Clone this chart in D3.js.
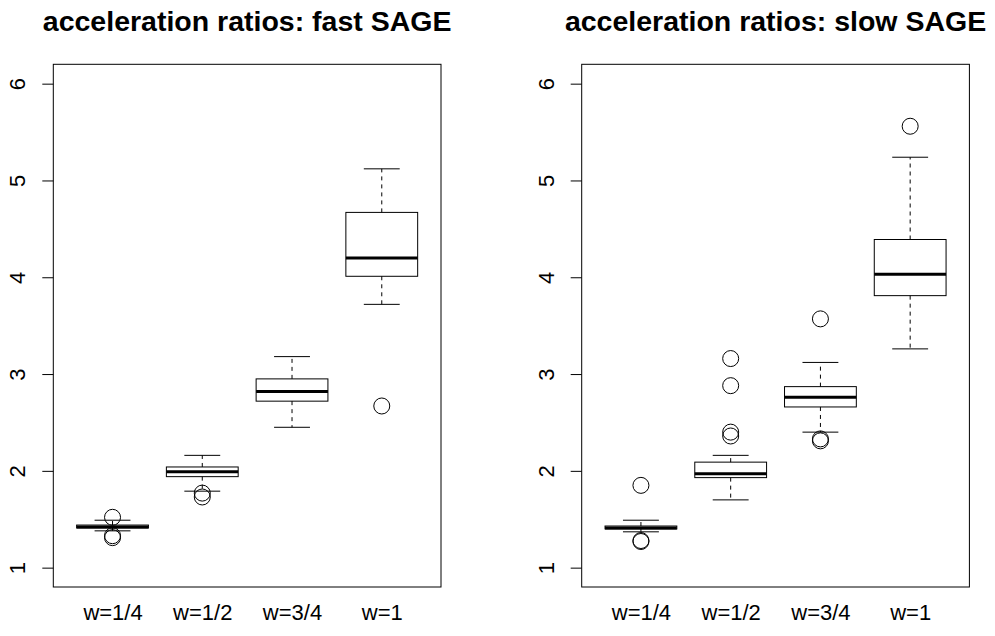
<!DOCTYPE html>
<html>
<head>
<meta charset="utf-8">
<script src="https://cdn.jsdelivr.net/npm/d3@7"></script>
<style>
  body { margin: 0; background: #fff; }
  svg { display: block; font-family: "Liberation Sans", Arial, sans-serif; }
</style>
</head>
<body>
<div id="chart"></div>
<script>
// ---- data ----
const groups = ['w=1/4', 'w=1/2', 'w=3/4', 'w=1'];
const yTicks = [1, 2, 3, 4, 5, 6];

// fast SAGE: whisker ends, quartiles, medians, outliers
const fastLow  = [1.38, 1.79, 2.45, 3.72];
const fastQ1   = [1.41, 1.94, 2.72, 4.01];
const fastMed  = [1.42, 1.99, 2.82, 4.20];
const fastQ3   = [1.44, 2.04, 2.95, 4.67];
const fastHigh = [1.49, 2.16, 3.18, 5.12];
const fastOut  = [[1.52, 1.33, 1.31], [1.77, 1.73], [], [2.67]];

// slow SAGE
const slowLow  = [1.37, 1.70, 2.40, 3.26];
const slowQ1   = [1.40, 1.93, 2.66, 3.81];
const slowMed  = [1.41, 1.97, 2.76, 4.03];
const slowQ3   = [1.43, 2.09, 2.87, 4.39];
const slowHigh = [1.49, 2.16, 3.12, 5.24];
const slowOut  = [[1.85, 1.28, 1.27], [3.16, 2.88, 2.40, 2.36], [3.57, 2.33, 2.31], [5.56]];

const titles = ['acceleration ratios: fast SAGE', 'acceleration ratios: slow SAGE'];

// ---- layout ----
const W = 995, H = 636;
const plotTop = 64.3, plotBottom = 587;
const panelLeft = [53.3, 581.7];
const panelWidth = 387.7;

const svg = d3.select('#chart').append('svg')
  .attr('width', W).attr('height', H);

function buildStats(low, q1, med, q3, high, out) {
  return groups.map((g, i) => ({
    name: g, idx: i + 1,
    low: low[i], q1: q1[i], med: med[i], q3: q3[i], high: high[i], out: out[i]
  }));
}

const panels = [
  buildStats(fastLow, fastQ1, fastMed, fastQ3, fastHigh, fastOut),
  buildStats(slowLow, slowQ1, slowMed, slowQ3, slowHigh, slowOut)
];

// R style: ylim c(1,6) extended 4%, xlim c(0.5,4.5) extended 4%
const y = d3.scaleLinear().domain([0.8, 6.2]).range([plotBottom, plotTop]);

panels.forEach((stats, p) => {
  const x0 = panelLeft[p];
  const x = d3.scaleLinear().domain([0.34, 4.66]).range([x0, x0 + panelWidth]);
  const unit = x(1) - x(0);
  const half = 0.4 * unit;      // boxwex 0.8
  const stap = 0.2 * unit;      // staplewex 0.5

  const g = svg.append('g');

  // boxes
  const bx = g.selectAll('.bx').data(stats).enter().append('g').attr('class', 'bx');

  // whiskers (dashed)
  bx.append('line')
    .attr('x1', d => x(d.idx)).attr('x2', d => x(d.idx))
    .attr('y1', d => y(d.q3)).attr('y2', d => y(d.high))
    .attr('stroke', '#000').attr('stroke-dasharray', '4,4');
  bx.append('line')
    .attr('x1', d => x(d.idx)).attr('x2', d => x(d.idx))
    .attr('y1', d => y(d.q1)).attr('y2', d => y(d.low))
    .attr('stroke', '#000').attr('stroke-dasharray', '4,4');

  // staples
  ['high', 'low'].forEach(k => {
    bx.append('line')
      .attr('x1', d => x(d.idx) - stap).attr('x2', d => x(d.idx) + stap)
      .attr('y1', d => y(d[k])).attr('y2', d => y(d[k]))
      .attr('stroke', '#000');
  });

  bx.append('rect')
    .attr('x', d => x(d.idx) - half).attr('width', 2 * half)
    .attr('y', d => y(d.q3)).attr('height', d => y(d.q1) - y(d.q3))
    .attr('fill', 'none').attr('stroke', '#000');

  bx.append('line')
    .attr('x1', d => x(d.idx) - half).attr('x2', d => x(d.idx) + half)
    .attr('y1', d => y(d.med)).attr('y2', d => y(d.med))
    .attr('stroke', '#000').attr('stroke-width', 3);

  // outliers
  bx.selectAll('circle').data(d => d.out.map(v => ({ idx: d.idx, v })))
    .enter().append('circle')
    .attr('cx', d => x(d.idx)).attr('cy', d => y(d.v)).attr('r', 8)
    .attr('fill', 'none').attr('stroke', '#000');

  // frame
  g.append('rect')
    .attr('x', x0).attr('y', plotTop)
    .attr('width', panelWidth).attr('height', plotBottom - plotTop)
    .attr('fill', 'none').attr('stroke', '#000');

  // y axis
  const ya = g.append('g').attr('transform', `translate(${x0},0)`)
    .call(d3.axisLeft(y).tickValues(yTicks).tickSize(11).tickFormat(d3.format('d')));
  ya.select('.domain').remove();
  ya.selectAll('.tick line').attr('stroke', '#000');
  ya.selectAll('.tick text')
    .attr('x', 0).attr('y', -35.7).attr('dy', '0.35em')
    .attr('transform', 'rotate(-90)')
    .attr('text-anchor', 'middle')
    .attr('font-size', 22).attr('fill', '#000')
    .attr('font-family', '"Liberation Sans", Arial, sans-serif');

  // x labels (no ticks)
  const xa = g.append('g').attr('transform', `translate(0,${plotBottom})`)
    .call(d3.axisBottom(x).tickValues([1, 2, 3, 4]).tickSize(0)
      .tickFormat(i => groups[i - 1]));
  xa.select('.domain').remove();
  xa.selectAll('.tick text')
    .attr('y', 25).attr('dy', '0.35em')
    .attr('font-size', 22).attr('fill', '#000')
    .attr('font-family', '"Liberation Sans", Arial, sans-serif');

  // title
  g.append('text')
    .attr('x', x0 + panelWidth / 2).attr('y', 21).attr('dy', '0.35em')
    .attr('text-anchor', 'middle')
    .attr('font-size', 28.5).attr('font-weight', 'bold')
    .text(titles[p]);
});
</script>
</body>
</html>
